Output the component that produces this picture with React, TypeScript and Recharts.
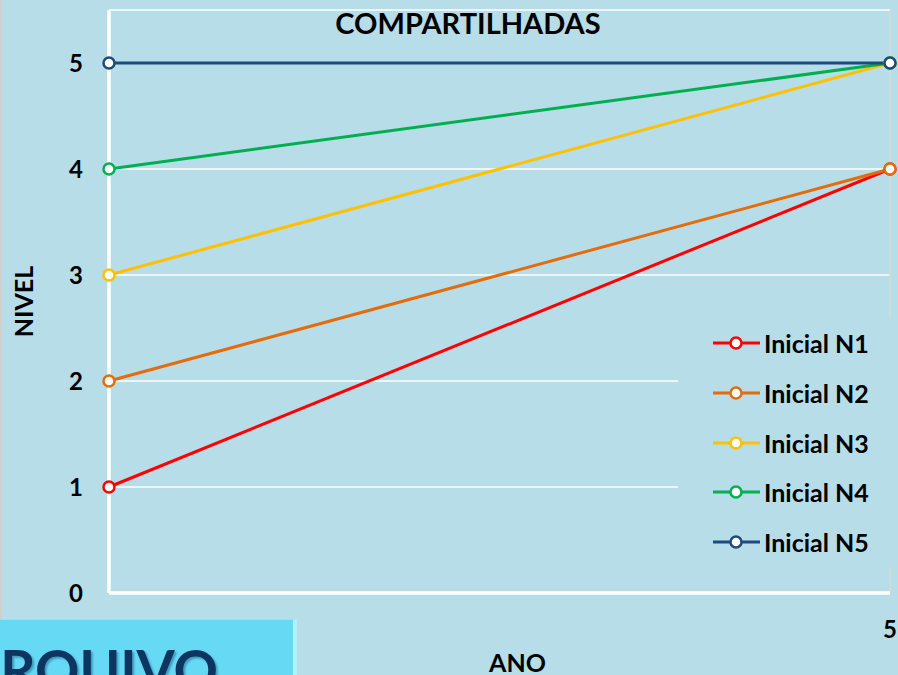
import React from 'react';
import { LineChart, Line, XAxis, YAxis, CartesianGrid, Legend, ReferenceLine } from 'recharts';

const categories = ['1', '5'];
const seriesNames = ['Inicial N1', 'Inicial N2', 'Inicial N3', 'Inicial N4', 'Inicial N5'];
const n1 = [1, 4];
const n2 = [2, 4];
const n3 = [3, 5];
const n4 = [4, 5];
const n5 = [5, 5];
const yTicks = [0, 1, 2, 3, 4, 5];
const seriesColors = ['#ff0000', '#e46c0a', '#ffc000', '#00b050', '#1f497d'];

const seriesValues = [n1, n2, n3, n4, n5];
const data = categories.map((c, i) => {
  const row: Record<string, string | number> = { ano: c };
  seriesNames.forEach((name, s) => {
    row[name] = seriesValues[s][i];
  });
  return row;
});

const BG = '#b7dde8';
const FONT = 'Lato, "Open Sans", sans-serif';

const LegendContent = (props: any) => {
  const payload = props.payload || [];
  return (
    <div style={{ width: 220, height: 250, background: BG, position: 'relative' }}>
      {payload.map((entry: any, i: number) => (
        <div
          key={entry.value}
          style={{
            position: 'absolute',
            left: 35,
            top: 26 + i * 49.8 - 15,
            height: 30,
            display: 'flex',
            alignItems: 'center',
          }}
        >
          <svg width={49} height={16} style={{ display: 'block' }}>
            <line x1={0} y1={8} x2={47} y2={8} stroke={entry.color} strokeWidth={3} />
            <circle cx={23} cy={8} r={5.5} fill="#fff" stroke={entry.color} strokeWidth={2.5} />
          </svg>
          <span style={{ fontFamily: FONT, fontWeight: 700, fontSize: 25, color: '#000', marginLeft: 2, whiteSpace: 'nowrap' }}>
            {entry.value}
          </span>
        </div>
      ))}
    </div>
  );
};

export default function App() {
  return (
    <div
      style={{
        position: 'absolute',
        left: 0,
        top: 0,
        width: 898,
        height: 675,
        overflow: 'hidden',
        background: BG,
        fontFamily: FONT,
      }}
    >
      <div style={{ position: 'absolute', left: 0, top: 0, width: 2, height: 619, background: '#d0d0d0' }} />
      <div
        style={{
          position: 'absolute',
          left: 468,
          top: 8,
          transform: 'translateX(-50%)',
          fontSize: 29,
          lineHeight: 1,
          fontWeight: 700,
          color: '#000',
          whiteSpace: 'nowrap',
        }}
      >
        COMPARTILHADAS
      </div>
      <LineChart width={898} height={675} data={data} margin={{ top: 10, right: 8, left: 0, bottom: 0 }}>
        <CartesianGrid horizontal vertical={false} stroke="#ffffff" strokeWidth={1.5} />
        <XAxis
          dataKey="ano"
          height={82}
          axisLine={{ stroke: '#ffffff', strokeWidth: 3.5 }}
          tickLine={false}
          tickSize={0}
          tickMargin={28}
          tick={{ fontSize: 24, fontWeight: 700, fill: '#000' }}
          label={{ value: 'ANO', position: 'insideBottom', offset: 3, dx: 18, style: { fontSize: 25, fontWeight: 700, fill: '#000' } }}
        />
        <YAxis
          width={109}
          domain={[0, 5.5]}
          ticks={yTicks}
          allowDataOverflow
          axisLine={{ stroke: '#ffffff', strokeWidth: 3.5 }}
          tickLine={false}
          tickSize={0}
          tickMargin={26}
          tick={{ fontSize: 24, fontWeight: 700, fill: '#000' }}
          label={{ value: 'NIVEL', angle: -90, position: 'insideLeft', offset: 24, style: { fontSize: 25, fontWeight: 700, fill: '#000', textAnchor: 'middle' } }}
        />
        <ReferenceLine x="5" stroke="#d9d9d9" strokeWidth={1.5} />
        {seriesNames.map((name, i) => (
          <Line
            key={name}
            type="linear"
            dataKey={name}
            name={name}
            stroke={seriesColors[i]}
            strokeWidth={3}
            dot={{ r: 5.5, fill: '#ffffff', stroke: seriesColors[i], strokeWidth: 2.5 }}
            activeDot={false}
            isAnimationActive={false}
          />
        ))}
        <Legend
          layout="vertical"
          align="center"
          verticalAlign="middle"
          content={<LegendContent />}
          wrapperStyle={{ position: 'absolute', left: 678, top: 317, width: 220, height: 250, margin: 0 }}
        />
      </LineChart>
      <div
        style={{
          position: 'absolute',
          left: 0,
          top: 619,
          width: 293,
          height: 60,
          background: '#66d9f5',
          borderTop: '1px solid #8fe6fa',
          borderRight: '4px solid #a8f4ff',
          overflow: 'hidden',
        }}
      >
        <span
          style={{
            position: 'absolute',
            left: -38,
            top: 22,
            fontSize: 55,
            lineHeight: 1,
            fontWeight: 700,
            color: '#0c3561',
            whiteSpace: 'nowrap',
            textShadow: '2px 2px 2px rgba(0,40,80,0.35)',
          }}
        >
          ARQUIVO
        </span>
      </div>
    </div>
  );
}
